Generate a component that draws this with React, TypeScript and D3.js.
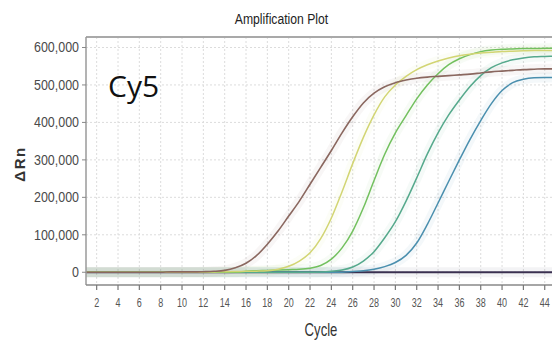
import React from 'react';
import * as d3 from 'd3';

const cycles = [1,2,3,4,5,6,7,8,9,10,11,12,13,14,15,16,17,18,19,20,21,22,23,24,25,26,27,28,29,30,31,32,33,34,35,36,37,38,39,40,41,42,43,44,45];

const brown = [0,0,0,0,0,0,0,0,1000,1000,1000,1500,2500,5000,12000,24000,45000,75000,110000,150000,190000,235000,280000,325000,372000,415000,452000,478000,495000,506000,513000,518000,521000,523000,525000,527000,529000,532000,535000,537000,539000,541000,542000,543000,543000];
const yellow = [0,0,0,0,0,0,0,0,0,0,0,500,1000,1500,2000,2500,3000,4000,8000,16000,30000,52000,90000,145000,215000,290000,360000,420000,468000,500000,523000,541000,554000,564000,572000,578000,582000,585000,587000,589000,590000,591000,592000,592000,592000];
const green = [0,0,0,0,0,0,0,0,0,0,0,0,0,0,0,3000,4000,5000,6000,7000,8000,11000,18000,35000,65000,110000,172000,245000,315000,372000,418000,463000,500000,530000,554000,570000,581000,589000,593000,595000,596000,597000,597000,598000,598000];
const teal = [0,0,0,0,0,0,0,0,0,0,0,0,0,0,0,0,0,0,0,0,0,0,1000,3000,6000,14000,30000,55000,92000,135000,190000,252000,316000,372000,420000,460000,496000,525000,546000,559000,567000,572000,575000,576000,577000];
const blue = [0,0,0,0,0,0,0,0,0,0,0,0,0,0,0,0,0,0,0,0,0,0,0,0,0,2000,4000,8000,15000,26000,45000,78000,128000,185000,243000,300000,355000,405000,450000,485000,506000,515000,519000,520000,520000];
const ntc = [0,0,0,0,0,0,0,0,0,0,0,0,0,0,0,0,0,0,0,0,0,0,0,0,0,0,0,0,0,0,0,0,0,0,0,0,0,0,0,0,0,0,0,0,0];

const xTicks = [2,4,6,8,10,12,14,16,18,20,22,24,26,28,30,32,34,36,38,40,42,44];
const yTicks = [0,100000,200000,300000,400000,500000,600000];

const title = 'Amplification Plot';
const xLabel = 'Cycle';
const yLabel = 'ΔRn';
const dyeLabel = 'Cy5';

const series = [
  { values: ntc, color: '#3a3050', w: 2.2 },
  { values: blue, color: '#4a8fae', w: 1.5 },
  { values: teal, color: '#55a98c', w: 1.5 },
  { values: green, color: '#72c05e', w: 1.5 },
  { values: yellow, color: '#d2d573', w: 1.5 },
  { values: brown, color: '#8a675f', w: 1.6 },
];

export default function App() {
  const W = 552, H = 343;
  const left = 86, top = 37, bottom = 285;
  const x = d3.scaleLinear().domain([1, 45]).range([86, 555.4]);
  const y = d3.scaleLinear().domain([-34000, 628000]).range([285, 37]);
  const line = d3.line<number>()
    .x((d, i) => x(cycles[i]))
    .y(d => y(d))
    .curve(d3.curveMonotoneX);
  const fmt = d3.format(',');
  const font = 'Liberation Sans, Arial, sans-serif';

  return (
    <svg width={W} height={H} style={{ position: 'absolute', left: 0, top: 0, background: '#fff' }}>
      <defs>
        <clipPath id="plot">
          <rect x={left} y={top} width={W - left} height={bottom - top} />
        </clipPath>
      </defs>
      <rect x={0} y={0} width={W} height={H} fill="#fff" />
      {/* grid */}
      <g stroke="#dcdcdc" strokeWidth={1} strokeDasharray="2,2">
        {xTicks.map(t => (
          <line key={'gx' + t} x1={x(t)} x2={x(t)} y1={top} y2={bottom} />
        ))}
        {yTicks.map(t => (
          <line key={'gy' + t} x1={left} x2={W} y1={y(t)} y2={y(t)} />
        ))}
      </g>
      {/* curves */}
      <g clipPath="url(#plot)" fill="none">
        {series.map((s, i) => (
          <path key={'h' + i} d={line(s.values) || ''} stroke={s.color} strokeOpacity={0.06} strokeWidth={10} />
        ))}
        {series.map((s, i) => (
          <path key={'l' + i} d={line(s.values) || ''} stroke={s.color} strokeWidth={s.w} />
        ))}
      </g>
      {/* frame */}
      <line x1={left} x2={W} y1={top} y2={top} stroke="#a9a9a9" strokeWidth={2} />
      <line x1={left} x2={left} y1={top} y2={bottom} stroke="#9a9a9a" strokeWidth={1.5} />
      <line x1={left} x2={W} y1={bottom} y2={bottom} stroke="#888" strokeWidth={1.5} />
      {xTicks.map(t => (
        <line key={'xt' + t} x1={x(t)} x2={x(t)} y1={bottom} y2={bottom + 5} stroke="#777" strokeWidth={1.2} />
      ))}
      {yTicks.map(t => (
        <line key={'yt' + t} x1={left - 4} x2={left} y1={y(t)} y2={y(t)} stroke="#888" strokeWidth={1} />
      ))}
      {/* tick labels */}
      {yTicks.map(t => (
        <text key={'yl' + t} transform={`translate(79,${y(t) + 5}) scale(0.89,1)`} textAnchor="end"
          fontFamily={font} fontSize={14} fill="#4a4a4a">{fmt(t)}</text>
      ))}
      {xTicks.map(t => (
        <text key={'xl' + t} transform={`translate(${x(t)},307) scale(0.72,1)`} textAnchor="middle"
          fontFamily={font} fontSize={12.5} fill="#555">{t}</text>
      ))}
      {/* titles */}
      <text transform="translate(281.5,23.5) scale(0.87,1)" textAnchor="middle" fontFamily={font} fontSize={14} fill="#222">{title}</text>
      <text transform="translate(321,336) scale(0.73,1)" textAnchor="middle" fontFamily={font} fontSize={18} fill="#333">{xLabel}</text>
      <text transform="translate(25,164) rotate(-90)" textAnchor="middle" fontFamily={font} fontSize={15} letterSpacing={1.5} fontWeight="bold" fill="#333">{yLabel}</text>
      <text x={108} y={97} fontFamily="Open Sans, Noto Sans, sans-serif" fontSize={30} fill="#111">{dyeLabel}</text>
    </svg>
  );
}
